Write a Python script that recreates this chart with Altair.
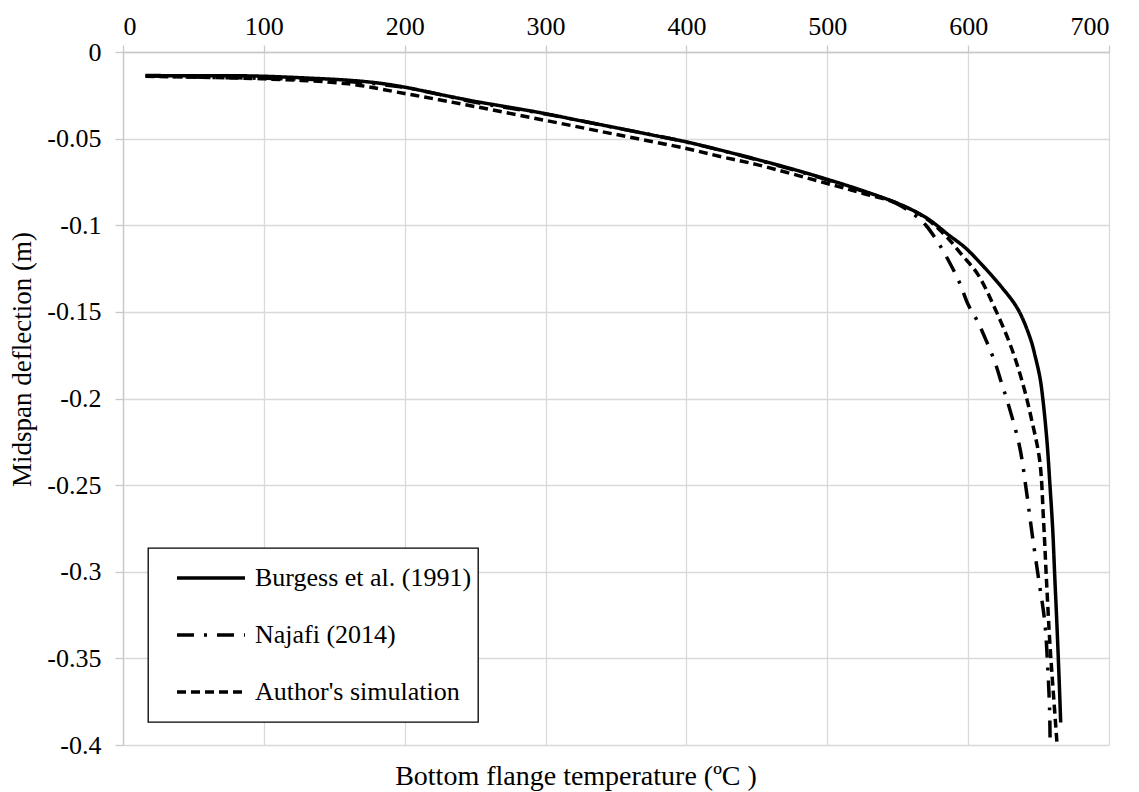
import altair as alt
import pandas as pd

series_names = ["Burgess et al. (1991)", "Najafi (2014)", "Author's simulation"]

burgess_x = [16, 50, 80, 100, 130, 160, 180, 200, 225, 250, 275, 300, 325, 350, 375, 400, 425, 450, 475, 500,
             525, 550, 570, 586, 598, 610, 622, 635, 644, 648, 651, 653, 656, 658, 660, 661.5, 663, 664.5, 665.7]
burgess_y = [-0.0136, -0.0137, -0.0137, -0.0140, -0.0150, -0.0163, -0.0178, -0.0203, -0.0245, -0.0285, -0.0320,
             -0.0356, -0.0397, -0.0437, -0.0478, -0.0519, -0.0568, -0.0620, -0.0675, -0.0735, -0.0800, -0.0874,
             -0.0955, -0.1055, -0.113, -0.123, -0.134, -0.148, -0.165, -0.177, -0.188, -0.200, -0.225, -0.249,
             -0.275, -0.303, -0.330, -0.360, -0.387]

najafi_x = [16, 50, 100, 150, 200, 250, 300, 350, 400, 450, 500, 525, 550, 565, 570, 578.7, 587, 594, 600, 607,
            613, 619, 624, 628.4, 636.6, 641.3, 645.4, 650, 654.4, 656.5, 657.8, 658.2]
najafi_y = [-0.0138, -0.0145, -0.0152, -0.0165, -0.0205, -0.0290, -0.0358, -0.0438, -0.0520, -0.0622, -0.0738,
            -0.0803, -0.0878, -0.0960, -0.1000, -0.1100, -0.1218, -0.1333, -0.1458, -0.1560, -0.1669, -0.1790,
            -0.1918, -0.2030, -0.2280, -0.2530, -0.2780, -0.3040, -0.3290, -0.3550, -0.3790, -0.3980]

author_x = [16, 50, 100, 160, 200, 214, 250, 300, 350, 400, 425, 450, 500, 525, 550, 570, 583.5, 595, 607, 619,
            630.7, 639, 645, 650.8, 653.5, 655.5, 658, 660.5, 663]
author_y = [-0.0140, -0.0145, -0.0155, -0.0184, -0.0240, -0.0260, -0.0315, -0.0395, -0.0476, -0.0557, -0.0605,
            -0.0650, -0.0759, -0.0815, -0.0874, -0.0960, -0.1056, -0.1165, -0.1285, -0.1480, -0.1707, -0.1920,
            -0.2120, -0.2358, -0.2700, -0.3030, -0.3410, -0.3700, -0.3980]

x_ticks = [0, 100, 200, 300, 400, 500, 600, 700]
y_ticks = [0, -0.05, -0.1, -0.15, -0.2, -0.25, -0.3, -0.35, -0.4]

rows = []
for name, xs, ys in zip(series_names, [burgess_x, najafi_x, author_x], [burgess_y, najafi_y, author_y]):
    for i, (xv, yv) in enumerate(zip(xs, ys)):
        rows.append({"series": name, "x": xv, "y": yv, "i": i})
df = pd.DataFrame(rows)

FONT = "Liberation Serif"

chart = alt.Chart(df).mark_line(color="black", strokeWidth=3.5, strokeCap="butt",
                                interpolate="catmull-rom").encode(
    x=alt.X("x:Q",
            scale=alt.Scale(domain=[0, 700], nice=False),
            axis=alt.Axis(orient="top", values=x_ticks, title=None, grid=True,
                          tickSize=7, labelPadding=6,
                          labelFont=FONT, labelFontSize=26, labelColor="black")),
    y=alt.Y("y:Q",
            scale=alt.Scale(domain=[-0.4, 0], nice=False, zero=False),
            axis=alt.Axis(values=y_ticks, grid=True, tickSize=8, labelPadding=14,
                          labelFont=FONT, labelFontSize=26, labelColor="black",
                          title="Midspan deflection (m)",
                          titleFont=FONT, titleFontSize=27, titleColor="black", titleFontWeight="normal",
                          labelExpr="datum.value == 0 ? '0' : '-' + format(abs(datum.value), '~g')",
                          titleX=-101, titleY=307, titleAlign="center", titleBaseline="middle",
                          titleAngle=270)),
    strokeDash=alt.StrokeDash("series:N",
                              scale=alt.Scale(domain=series_names,
                                              range=[[1, 0], [17, 10, 3, 10], [9, 5]]),
                              legend=alt.Legend(title=None, orient="none", legendX=25, legendY=496,
                                                symbolType="stroke", symbolSize=4624,
                                                symbolStrokeWidth=3.5, symbolStrokeColor="black",
                                                symbolOffset=21, labelOffset=8, rowPadding=9,
                                                clipHeight=48,
                                                padding=6, fillColor="white", strokeColor="black",
                                                labelFont=FONT, labelFontSize=26, labelColor="black",
                                                labelLimit=400)),
    order=alt.Order("i:Q"),
).properties(
    width=986,
    height=693,
    autosize=alt.AutoSizeParams(type="none"),
    padding={"left": 123, "top": 52, "right": 30, "bottom": 47},
    title=alt.TitleParams(text="Bottom flange temperature (ºC )", orient="bottom", anchor="middle",
                          frame="group", font=FONT, fontSize=28, fontWeight="normal", color="black",
                          offset=5, dx=-40, baseline="top"),
    background="white",
).configure_axis(
    gridColor="#D9D9D9", gridWidth=1.3,
    domainColor="#C8C8C8", domainWidth=1.3,
    tickColor="#C8C8C8", tickWidth=1.3,
).configure_legend(
    strokeWidth=1.3,
).configure_view(strokeWidth=0)

chart.save("out.html", embed_options={"renderer": "svg", "actions": False})
